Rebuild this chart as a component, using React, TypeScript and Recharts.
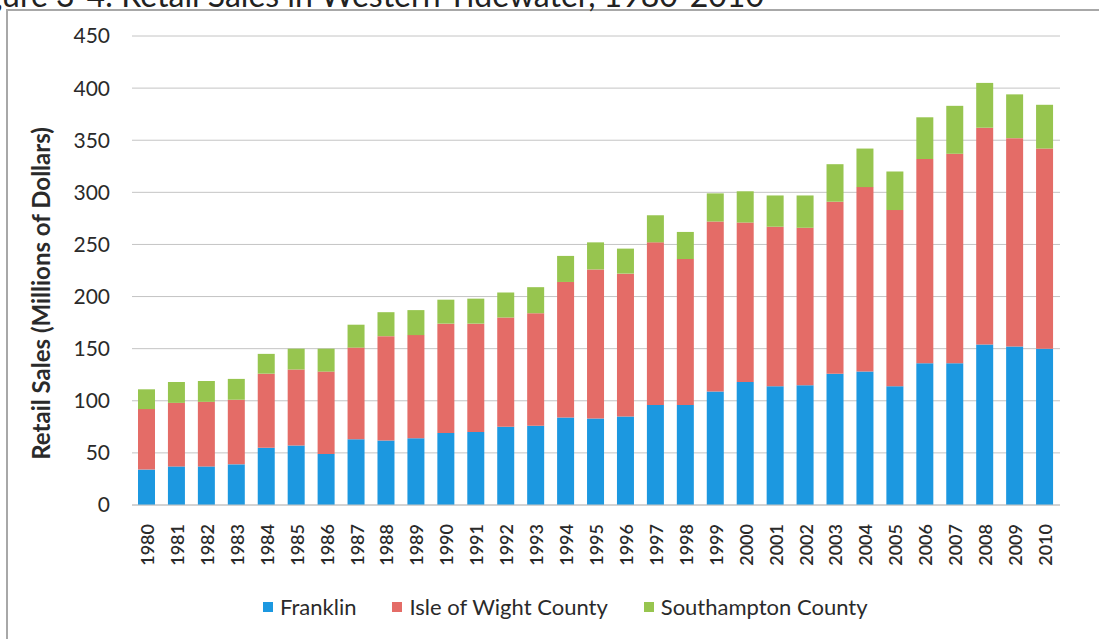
import React from 'react';
import { BarChart, Bar, XAxis, YAxis, CartesianGrid, Legend } from 'recharts';

const years = ['1980','1981','1982','1983','1984','1985','1986','1987','1988','1989','1990','1991','1992','1993','1994','1995','1996','1997','1998','1999','2000','2001','2002','2003','2004','2005','2006','2007','2008','2009','2010'];
const franklin = [34,37,37,39,55,57,49,63,62,64,69,70,75,76,84,83,85,96,96,109,118,114,115,126,128,114,136,136,154,152,150];
const isleOfWight = [58,61,62,62,71,73,79,88,100,99,105,104,105,108,130,143,137,156,140,163,153,153,151,165,177,169,196,201,208,200,192];
const southampton = [19,20,20,20,19,20,22,22,23,24,23,24,24,25,25,26,24,26,26,27,30,30,31,36,37,37,40,46,43,42,42];
const yTicks = [0,50,100,150,200,250,300,350,400,450];

const seriesNames = ['Franklin', 'Isle of Wight County', 'Southampton County'];
const colors = ['#1c98e0', '#e46c67', '#97c54f'];

const data = years.map((y, i) => ({
  year: y,
  franklin: franklin[i],
  isle: isleOfWight[i],
  south: southampton[i],
}));

const FONT = 'Lato, "Open Sans", sans-serif';

const YearTick = (props: any) => {
  const { x, y, payload } = props;
  return (
    <text
      x={x}
      y={y}
      transform={`rotate(-90, ${x}, ${y})`}
      textAnchor="end"
      dominantBaseline="central"
      fontFamily={FONT}
      fontSize={18}
      fontWeight={600}
      fill="#2a2a2a"
    >
      {payload.value}
    </text>
  );
};

const LegendContent = () => (
  <div style={{ display: 'flex', alignItems: 'center', fontFamily: FONT, fontSize: 22, color: '#2a2a2a' }}>
    {seriesNames.map((n, i) => (
      <div key={n} style={{ display: 'flex', alignItems: 'center', marginRight: i < 2 ? 36 : 0 }}>
        <span style={{ display: 'inline-block', width: 10, height: 10, background: colors[i], marginRight: 7 }} />
        <span>{n}</span>
      </div>
    ))}
  </div>
);

export default function App() {
  return (
    <div style={{ position: 'absolute', top: 0, left: 0, width: 1099, height: 639, background: '#fff', overflow: 'hidden' }}>
      <div style={{ position: 'absolute', left: 6, top: 9, width: 1300, height: 900, borderLeft: '2px solid #a8a8a8', borderTop: '2px solid #a8a8a8' }} />
      <svg style={{ position: 'absolute', left: 0, top: 0 }} width={1099} height={20}>
        <text x={764} y={7} textAnchor="end" fontFamily={FONT} fontSize={32} fill="#222">
          Figure 3-4: Retail Sales in Western Tidewater, 1980-2010
        </text>
      </svg>
      <div style={{ position: 'absolute', left: 0, top: 0 }}>
        <BarChart width={1099} height={639} data={data} margin={{ top: 36, right: 39, left: 0, bottom: 0 }} barSize={17}>
          <CartesianGrid vertical={false} stroke="#c4c4c4" strokeWidth={1} />
          <XAxis
            dataKey="year"
            height={134}
            tickLine={false}
            axisLine={{ stroke: '#c4c4c4' }}
            tickSize={0}
            tickMargin={19}
            interval={0}
            tick={<YearTick />}
          />
          <YAxis
            width={132}
            domain={[0, 450]}
            ticks={yTicks}
            tickLine={false}
            axisLine={false}
            tickSize={0}
            tickMargin={22}
            tick={{ fontFamily: FONT, fontSize: 21, fill: '#2a2a2a' }}
            label={{
              value: 'Retail Sales (Millions of Dollars)',
              angle: -90,
              position: 'insideLeft',
              offset: 0,
              dx: 41,
              dy: 23,
              style: { fontFamily: FONT, fontSize: 24, fontWeight: 700, fill: '#2a2a2a', textAnchor: 'middle' },
            }}
          />
          <Legend
            layout="horizontal"
            verticalAlign="middle"
            align="center"
            wrapperStyle={{ top: 593, left: 263, width: 760 }}
            content={<LegendContent />}
          />
          <Bar dataKey="franklin" name="Franklin" stackId="a" fill={colors[0]} isAnimationActive={false} />
          <Bar dataKey="isle" name="Isle of Wight County" stackId="a" fill={colors[1]} isAnimationActive={false} />
          <Bar dataKey="south" name="Southampton County" stackId="a" fill={colors[2]} isAnimationActive={false} />
        </BarChart>
      </div>
    </div>
  );
}
